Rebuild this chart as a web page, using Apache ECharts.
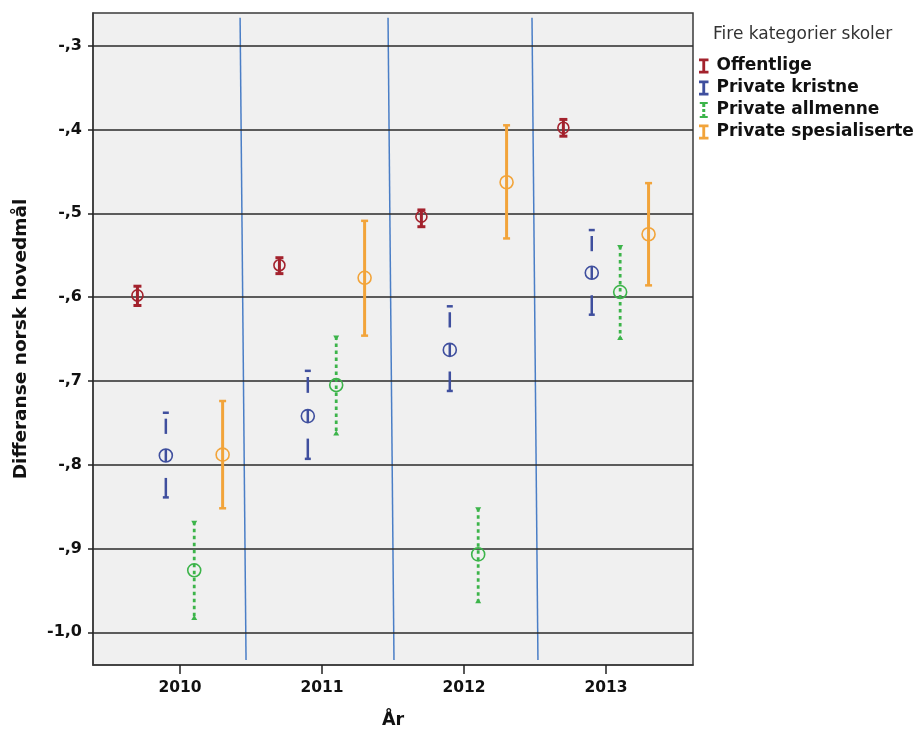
<!DOCTYPE html>
<html>
<head>
<meta charset="utf-8">
<script src="https://cdn.jsdelivr.net/npm/echarts@6/dist/echarts.min.js"></script>
<style>html,body{margin:0;padding:0;background:#fff;}#c{width:919px;height:734px;}</style>
</head>
<body>
<div id="c"></div>
<script>
// ---- data ----
const years = [2010, 2011, 2012, 2013];
const categories = ['Offentlige', 'Private kristne', 'Private allmenne', 'Private spesialiserte'];
// mean, lower CI, upper CI per year
const offentligeMean  = [-0.598, -0.562, -0.504, -0.398];
const offentligeLow   = [-0.610, -0.572, -0.516, -0.408];
const offentligeHigh  = [-0.587, -0.553, -0.496, -0.388];
const kristneMean     = [-0.789, -0.742, -0.663, -0.571];
const kristneLow      = [-0.839, -0.793, -0.712, -0.621];
const kristneHigh     = [-0.738, -0.688, -0.611, -0.520];
const allmenneMean    = [-0.926, -0.705, -0.907, -0.594];
const allmenneLow     = [-0.984, -0.764, -0.964, -0.650];
const allmenneHigh    = [-0.868, -0.647, -0.852, -0.539];
const spesialMean     = [-0.788, -0.577, -0.463, -0.525];
const spesialLow      = [-0.852, -0.646, -0.530, -0.586];
const spesialHigh     = [-0.724, -0.509, -0.395, -0.464];
const yTicks = [-1.0, -0.9, -0.8, -0.7, -0.6, -0.5, -0.4, -0.3];
const yTickLabels = ['-1,0', '-,9', '-,8', '-,7', '-,6', '-,5', '-,4', '-,3'];
// hand-drawn separator lines (data coordinates of their ends)
const separatorTopX = [2010.423, 2011.465, 2012.479];
const separatorBottomX = [2010.465, 2011.507, 2012.521];
const separatorTopY = -0.2667;
const separatorBottomY = -1.033;

// ---- chart ----
const FONT = 'DejaVu Sans, Liberation Sans, sans-serif';
const means = [offentligeMean, kristneMean, allmenneMean, spesialMean];
const lows = [offentligeLow, kristneLow, allmenneLow, spesialLow];
const highs = [offentligeHigh, kristneHigh, allmenneHigh, spesialHigh];
const offsets = [-0.3, -0.1, 0.1, 0.3];
const colors = ['#a3222d', '#3f4f9e', '#3cb44a', '#f2a43a'];
const kinds = ['solid', 'longdash', 'dotted', 'solid'];
const lineW = [3, 2.5, 2.8, 3];

function makeRender(idx) {
  return function (params, api) {
    const x = api.value(0), m = api.value(1), lo = api.value(2), hi = api.value(3);
    const pm = api.coord([x, m]), pl = api.coord([x, lo]), ph = api.coord([x, hi]);
    const cx = pm[0];
    const col = colors[idx];
    const lw = lineW[idx];
    const ch = [];
    const r = idx === 0 ? 5.5 : 6.5;
    const seg = (y1, y2, extra) => ch.push({
      type: 'line', shape: { x1: cx, y1: y1, x2: cx, y2: y2 },
      style: Object.assign({ stroke: col, lineWidth: lw }, extra || {})
    });
    const cap = (y, w, lwc) => ch.push({
      type: 'line', shape: { x1: cx - w / 2, y1: y, x2: cx + w / 2, y2: y },
      style: { stroke: col, lineWidth: lwc }
    });
    const L = pl[1] - ph[1];
    if (kinds[idx] === 'solid') {
      seg(ph[1], pl[1]);
      cap(ph[1], idx === 0 ? 8 : 7, idx === 0 ? 3 : 2.5);
      cap(pl[1], idx === 0 ? 8 : 7, idx === 0 ? 3 : 2.5);
    } else if (kinds[idx] === 'longdash') {
      seg(ph[1] + 0.07 * L, ph[1] + 0.25 * L);
      seg(pm[1] - r, pm[1] + r);
      seg(ph[1] + 0.77 * L, pl[1]);
      cap(ph[1], 6, 2.5);
      cap(pl[1], 6, 2.5);
    } else {
      seg(ph[1], pl[1], { lineDash: [3.5, 3.5] });
      ch.push({ type: 'polygon', shape: { points: [[cx - 3, ph[1] - 1], [cx + 3, ph[1] - 1], [cx, ph[1] + 4]] }, style: { fill: col } });
      ch.push({ type: 'polygon', shape: { points: [[cx - 3, pl[1] + 1], [cx + 3, pl[1] + 1], [cx, pl[1] - 4]] }, style: { fill: col } });
    }
    ch.push({ type: 'circle', shape: { cx: cx, cy: pm[1], r: r }, style: { fill: 'none', stroke: col, lineWidth: 1.6 } });
    return { type: 'group', children: ch };
  };
}

const series = categories.map((name, i) => ({
  name: name,
  type: 'custom',
  renderItem: makeRender(i),
  encode: { x: 0, y: [1, 2, 3] },
  itemStyle: { color: colors[i] },
  data: years.map((yr, j) => [yr + offsets[i], means[i][j], lows[i][j], highs[i][j]]),
  z: 5
}));

// grid lines at tick values
series.push({
  type: 'line', name: 'grid', data: [], silent: true, z: 1,
  markLine: {
    silent: true, symbol: 'none', label: { show: false },
    lineStyle: { color: '#2a2a2a', width: 1.5, type: 'solid' },
    data: yTicks.map(v => ({ yAxis: v }))
  }
});
// separators
separatorTopX.forEach((tx, k) => {
  series.push({
    type: 'line', name: 'sep' + k, silent: true, symbol: 'none', z: 3,
    lineStyle: { color: '#4a7ec6', width: 1.5 },
    data: [[tx, separatorTopY], [separatorBottomX[k], separatorBottomY]]
  });
});

const iconI = 'path://M0,0H10V3H6.5V13H10V16H0V13H3.5V3H0Z';
const iconDotted = 'path://M1,0H9V2H6.5V5H3.5V2H1Z M3.5,7H6.5V10H3.5Z M1,16H9V14H6.5V12H3.5V14H1Z';

const chart = echarts.init(document.getElementById('c'), null, { renderer: 'canvas' });
chart.setOption({
  animation: false,
  backgroundColor: '#ffffff',
  title: {
    text: 'Fire kategorier skoler', left: 713, top: 26, padding: 0,
    textStyle: { fontFamily: FONT, fontSize: 17, fontWeight: 'normal', color: '#333' }
  },
  legend: {
    orient: 'vertical', left: 699, top: 57.5, padding: 0, itemWidth: 9.5, itemHeight: 16, itemGap: 5,
    data: categories.map((c, i) => ({ name: c, icon: i === 2 ? iconDotted : iconI })),
    textStyle: { fontFamily: FONT, fontSize: 17, fontWeight: 'bold', color: '#111', padding: [0, 0, 0, 3] },
    selectedMode: false
  },
  grid: {
    left: 93, top: 13, right: 226, bottom: 66, show: true,
    backgroundColor: '#f0f0f0', borderColor: '#3a3a3a', borderWidth: 1.5
  },
  xAxis: {
    type: 'value', min: 2009.387, max: 2013.613,
    name: 'År', nameLocation: 'middle', nameGap: 46,
    nameTextStyle: { fontFamily: FONT, fontSize: 17.5, fontWeight: 'bold', color: '#111' },
    axisLine: { show: true, onZero: false, lineStyle: { color: '#3a3a3a', width: 1.5 } },
    axisTick: { show: true, length: 9, customValues: years, lineStyle: { color: '#222', width: 1.5 } },
    axisLabel: {
      customValues: years, margin: 15, formatter: v => String(Math.round(v)),
      fontFamily: FONT, fontSize: 15.5, fontWeight: 'bold', color: '#111'
    },
    splitLine: { show: false }
  },
  yAxis: {
    type: 'value', min: -1.039, max: -0.261,
    name: 'Differanse norsk hovedmål', nameLocation: 'middle', nameGap: 62,
    nameTextStyle: { fontFamily: FONT, fontSize: 18.5, fontWeight: 'bold', color: '#111' },
    axisLine: { show: true, onZero: false, lineStyle: { color: '#3a3a3a', width: 1.5 } },
    axisTick: { show: true, length: 5, customValues: yTicks, lineStyle: { color: '#222', width: 1.5 } },
    axisLabel: {
      customValues: yTicks, margin: 11,
      formatter: v => { const k = yTicks.findIndex(t => Math.abs(t - v) < 1e-6); return k >= 0 ? yTickLabels[k] : ''; },
      fontFamily: FONT, fontSize: 16, fontWeight: 'bold', color: '#111'
    },
    splitLine: { show: false }
  },
  series: series
});
</script>
</body>
</html>
